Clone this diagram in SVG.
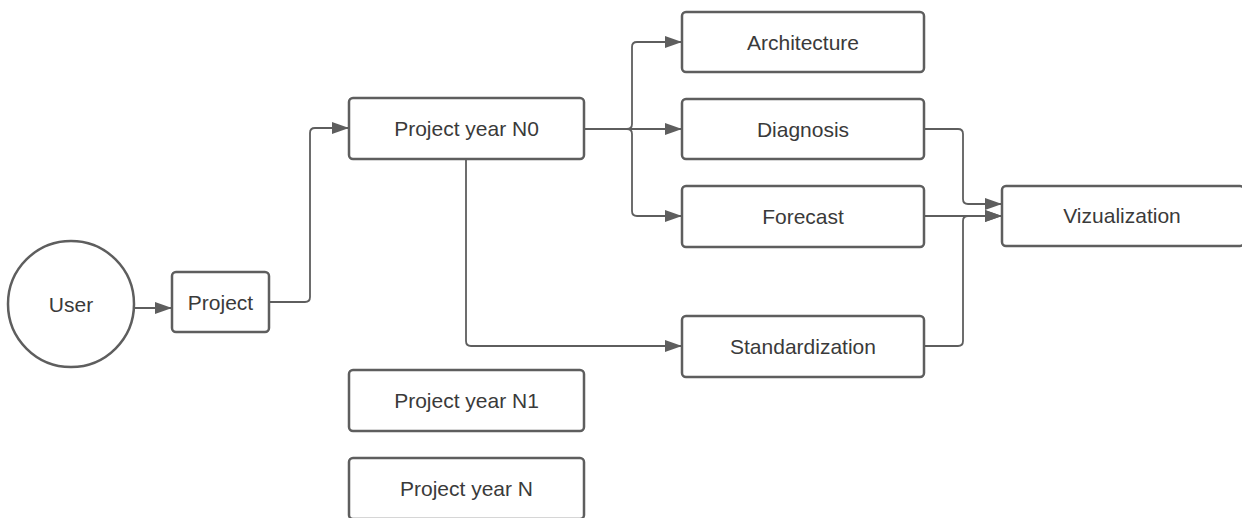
<svg xmlns="http://www.w3.org/2000/svg" width="1242" height="518" viewBox="0 0 1242 518">
<style>
.box{fill:#ffffff;stroke:#5e5e5e;stroke-width:2.5}
.lbl{font-family:"Liberation Sans",Arial,sans-serif;font-size:21px;fill:#3a3a3a;text-anchor:middle;dominant-baseline:central}
.con{fill:none;stroke:#5e5e5e;stroke-width:1.8}
</style>
<defs>
<marker id="arr" markerUnits="userSpaceOnUse" markerWidth="18" markerHeight="14" refX="17" refY="6" orient="auto">
<path d="M0,0 L17,6 L0,12 Z" fill="#5e5e5e"/>
</marker>
</defs>
<rect width="1242" height="518" fill="#ffffff"/>
<g id="connectors">
<path class="con" marker-end="url(#arr)" d="M134,308 L172,308"/>
<path class="con" marker-end="url(#arr)" d="M269,302 L305,302 Q310,302 310,297 L310,133 Q310,128 315,128 L349,128"/>
<path class="con" marker-end="url(#arr)" d="M584,129 L627,129 Q632,129 632,124 L632,47 Q632,42 637,42 L682,42"/>
<path class="con" marker-end="url(#arr)" d="M584,129 L682,129"/>
<path class="con" marker-end="url(#arr)" d="M584,129 L627,129 Q632,129 632,134 L632,211 Q632,216 637,216 L682,216"/>
<path class="con" marker-end="url(#arr)" d="M466,160 L466,341 Q466,346 471,346 L682,346"/>
<path class="con" marker-end="url(#arr)" d="M924,129 L958,129 Q963,129 963,134 L963,199 Q963,204 968,204 L1002,204"/>
<path class="con" marker-end="url(#arr)" d="M924,216 L1002,216"/>
<path class="con" marker-end="url(#arr)" d="M924,346 L958,346 Q963,346 963,341 L963,221 Q963,216 968,216 L1002,216"/>
</g>
<g id="user">
<circle class="box" cx="71" cy="304" r="63"/>
<text class="lbl" x="71" y="304">User</text>
</g>
<g id="project">
<rect class="box" x="172" y="272" width="97" height="60" rx="4"/>
<text class="lbl" x="220.5" y="302">Project</text>
</g>
<g id="project-year-n0">
<rect class="box" x="349" y="98" width="235" height="61" rx="4"/>
<text class="lbl" x="466.5" y="128">Project year N0</text>
</g>
<g id="project-year-n1">
<rect class="box" x="349" y="370" width="235" height="61" rx="4"/>
<text class="lbl" x="466.5" y="400">Project year N1</text>
</g>
<g id="project-year-n">
<rect class="box" x="349" y="458" width="235" height="61" rx="4"/>
<text class="lbl" x="466.5" y="488">Project year N</text>
</g>
<g id="architecture">
<rect class="box" x="682" y="12" width="242" height="60" rx="4"/>
<text class="lbl" x="803" y="42">Architecture</text>
</g>
<g id="diagnosis">
<rect class="box" x="682" y="99" width="242" height="60" rx="4"/>
<text class="lbl" x="803" y="129">Diagnosis</text>
</g>
<g id="forecast">
<rect class="box" x="682" y="186" width="242" height="61" rx="4"/>
<text class="lbl" x="803" y="216">Forecast</text>
</g>
<g id="standardization">
<rect class="box" x="682" y="316" width="242" height="61" rx="4"/>
<text class="lbl" x="803" y="346">Standardization</text>
</g>
<g id="vizualization">
<rect class="box" x="1002" y="186" width="242" height="60" rx="4"/>
<text class="lbl" x="1122" y="215">Vizualization</text>
</g>
</svg>
